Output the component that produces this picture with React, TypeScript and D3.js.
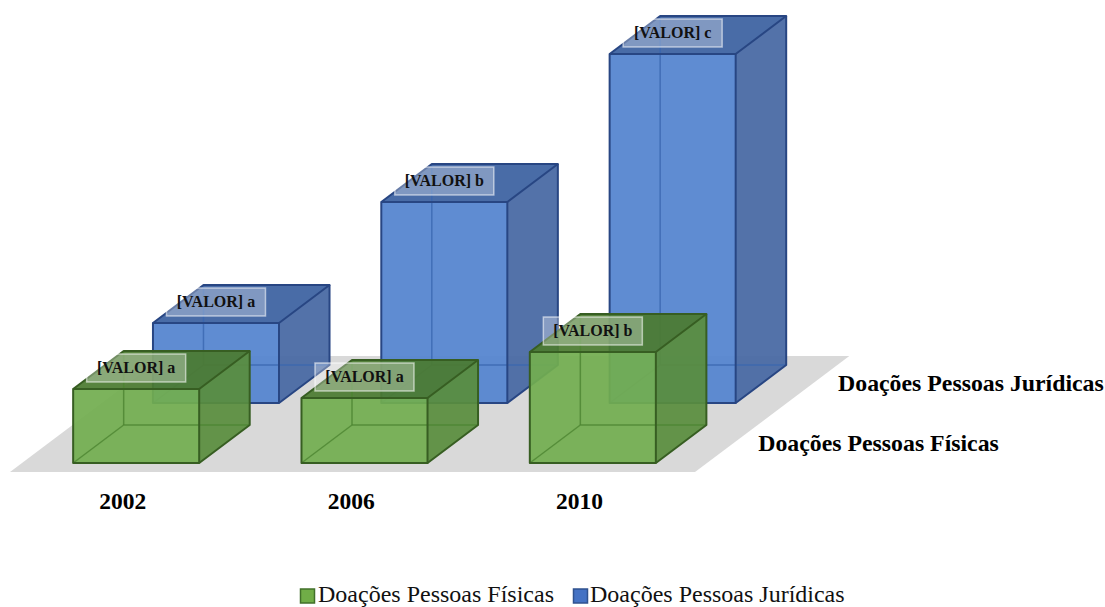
import * as d3 from "d3";

const years = ["2002", "2006", "2010"];
const seriesNames = ["Doações Pessoas Físicas", "Doações Pessoas Jurídicas"];
// heights (relative units)
const fisicasValues = [74, 65, 111];
const juridicasValues = [80, 201, 349];
const fisicasTags = ["[VALOR] a", "[VALOR] a", "[VALOR] b"];
const juridicasTags = ["[VALOR] a", "[VALOR] b", "[VALOR] c"];

const width = 1105;
const height = 607;
const BASE = 463; // screen y of value 0 at depth 0
const KX = 1.33; // horizontal shift per unit of depth
const FONT = "'Liberation Serif', 'Times New Roman', serif";

type Palette = { front: string; top: string; side: string; edge: string; hidden: string };
const palettes: Palette[] = [
    { front: "#72ad50", top: "#4b7b30", side: "#598d3d", edge: "#375e22", hidden: "#4c8531" },
    { front: "#5383cf", top: "#3b61a0", side: "#4667a3", edge: "#284683", hidden: "#3a66b0" },
];

const proj = (X: number, Y: number, Z: number): [number, number] => [X + Z * KX, BASE - Y - Z];
const pts = (arr: [number, number][]) => arr.map(p => p.join(",")).join(" ");

function Box({ x, w, z, d, h, pal }: { x: number; w: number; z: number; d: number; h: number; pal: Palette }) {
    const z1 = z + d;
    const fbl = proj(x, 0, z), fbr = proj(x + w, 0, z), ftr = proj(x + w, h, z), ftl = proj(x, h, z);
    const bbl = proj(x, 0, z1), bbr = proj(x + w, 0, z1), btr = proj(x + w, h, z1), btl = proj(x, h, z1);
    const op = 0.93;
    return (
        <g>
            <polygon points={pts([fbr, bbr, btr, ftr])} fill={pal.side} fillOpacity={op} />
            <polygon points={pts([ftl, ftr, btr, btl])} fill={pal.top} fillOpacity={op} />
            <polygon points={pts([fbl, fbr, ftr, ftl])} fill={pal.front} fillOpacity={op} />
            {/* hidden edges seen through the faces */}
            <g stroke={pal.hidden} strokeWidth={1.5} fill="none" strokeOpacity={0.8}>
                <line x1={bbl[0]} y1={bbl[1]} x2={btl[0]} y2={btl[1]} />
                <line x1={bbl[0]} y1={bbl[1]} x2={bbr[0]} y2={bbr[1]} />
                <line x1={fbl[0]} y1={fbl[1]} x2={bbl[0]} y2={bbl[1]} />
            </g>
            <g stroke={pal.edge} strokeWidth={2} fill="none" strokeLinejoin="round">
                <polygon points={pts([fbl, fbr, ftr, ftl])} />
                <polyline points={pts([ftl, btl, btr, ftr])} />
                <polyline points={pts([fbr, bbr, btr])} />
            </g>
        </g>
    );
}

function Tag({ x, y, text }: { x: number; y: number; text: string }) {
    return (
        <g>
            <rect x={x - 49.5} y={y - 14} width={99} height={28} fill="#ffffff" fillOpacity={0.3}
                  stroke="#ffffff" strokeOpacity={0.55} strokeWidth={1.5} />
            <text x={x} y={y + 5.5} textAnchor="middle" fontFamily={FONT} fontWeight="bold" fontSize={16} fill="#111">
                {text}
            </text>
        </g>
    );
}

export default function App() {
    const xScale = d3.scaleBand<string>()
        .domain(years)
        .range([22, 707])
        .paddingInner(0.448)
        .paddingOuter(0.224);

    const zScale = d3.scaleBand<string>()
        .domain(seriesNames)
        .range([-9, 107])
        .paddingInner(0.367)
        .paddingOuter(0.15);

    const yScale = d3.scaleLinear().domain([0, 350]).range([0, 350]);

    const series = [
        { name: seriesNames[0], values: fisicasValues, tags: fisicasTags, pal: palettes[0] },
        { name: seriesNames[1], values: juridicasValues, tags: juridicasTags, pal: palettes[1] },
    ];

    const floor = [proj(22, 0, -9), proj(707, 0, -9), proj(707, 0, 107), proj(22, 0, 107)];
    const bw = xScale.bandwidth();
    const bd = zScale.bandwidth();

    // draw back row first
    const drawOrder = [...series].reverse();

    return (
        <svg width={width} height={height} style={{ position: "absolute", left: 0, top: 0, background: "#fff" }}>
            <polygon points={pts(floor)} fill="#d9d9d9" />
            {drawOrder.map(s => (
                <g key={s.name}>
                    {years.map((yr, i) => (
                        <Box key={yr} x={xScale(yr)!} w={bw} z={zScale(s.name)!} d={bd}
                             h={yScale(s.values[i])} pal={s.pal} />
                    ))}
                </g>
            ))}
            {drawOrder.map(s => (
                <g key={s.name + "-tags"}>
                    {years.map((yr, i) => {
                        const [cx, cy] = proj(xScale(yr)! + bw / 2, yScale(s.values[i]), zScale(s.name)!);
                        return <Tag key={yr} x={cx} y={cy - 21} text={s.tags[i]} />;
                    })}
                </g>
            ))}
            {years.map(yr => {
                const [lx] = proj(xScale(yr)! + bw / 2, 0, -10);
                return (
                    <text key={yr} x={lx} y={509} textAnchor="middle" fontFamily={FONT} fontWeight="bold" fontSize={23.5} fill="#000">
                        {yr}
                    </text>
                );
            })}
            {series.map(s => {
                const [sx, sy] = proj(707, 0, zScale(s.name)! + bd / 2);
                return (
                    <text key={s.name} x={sx + 26} y={sy + 7} fontFamily={FONT} fontWeight="bold" fontSize={23.8} fill="#000">
                        {s.name}
                    </text>
                );
            })}
            <g fontFamily={FONT} fontSize={24} fill="#111">
                <rect x={300.5} y={589} width={14} height={14} fill="#70ad47" stroke="#41702a" strokeWidth={1.5} />
                <text x={318} y={602}>{seriesNames[0]}</text>
                <rect x={573.5} y={589} width={14} height={14} fill="#4472c4" stroke="#2f528f" strokeWidth={1.5} />
                <text x={590} y={602}>{seriesNames[1]}</text>
            </g>
        </svg>
    );
}
